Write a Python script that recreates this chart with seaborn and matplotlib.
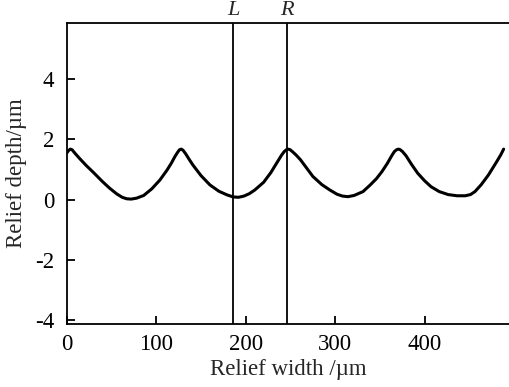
import numpy as np
import pandas as pd

import matplotlib
matplotlib.use("Agg")

import matplotlib.pyplot as plt
import matplotlib.transforms as mtransforms
import seaborn as sns

# profile (width in um, depth in um)
width_um = [0, 2, 4, 6, 9, 15, 22, 30, 40, 48, 56, 62, 67, 72, 78, 86, 95, 104,
            112, 117, 121, 124, 126, 128, 130, 133, 137, 141, 150, 160, 170, 179,
            186, 192, 198, 204, 210, 220, 228, 235, 240, 243, 245.5, 247.5, 249.5,
            252, 256, 261, 268, 275, 285, 294, 302, 308, 314, 321, 331, 339, 346,
            352, 358, 363, 366, 368.5, 370.5, 372.5, 375, 379, 385, 392, 400, 407,
            416, 426, 436, 445, 451, 456, 463, 471, 480, 485, 488]
depth_um = [1.55, 1.63, 1.68, 1.66, 1.55, 1.35, 1.13, 0.90, 0.60, 0.38, 0.19, 0.08, 0.03, 0.02, 0.05, 0.14, 0.36, 0.65,
            0.98, 1.22, 1.44, 1.58, 1.66, 1.68, 1.64, 1.52, 1.33, 1.15, 0.80, 0.49, 0.28, 0.16,
            0.09, 0.08, 0.12, 0.20, 0.32, 0.58, 0.90, 1.24, 1.48, 1.60, 1.66, 1.68, 1.66,
            1.60, 1.49, 1.33, 1.05, 0.77, 0.50, 0.32, 0.18, 0.12, 0.10, 0.14, 0.27, 0.49, 0.70,
            0.93, 1.20, 1.46, 1.60, 1.66, 1.68, 1.66, 1.60, 1.46, 1.18, 0.88, 0.62, 0.43,
            0.27, 0.17, 0.13, 0.13, 0.17, 0.27, 0.50, 0.82, 1.25, 1.50, 1.68]

marker_names = ["L", "R"]
marker_pos = [186, 246]

x_ticks = [0, 100, 200, 300, 400]
y_ticks = [-4, -2, 0, 2, 4]

df = pd.DataFrame({"width": width_um, "depth": depth_um})

sns.set_style("ticks")
plt.rcParams["font.family"] = ["Liberation Serif", "DejaVu Serif"]

fig = plt.figure(figsize=(5.09, 3.87), dpi=100)
ax = fig.add_axes([66.7 / 509, 1 - 324 / 387, (509 - 66.7) / 509, (324 - 22.7) / 387])

sns.lineplot(data=df, x="width", y="depth", ax=ax, color="black", linewidth=2.2,
             sort=False, solid_joinstyle="round", solid_capstyle="round")

trans = mtransforms.blended_transform_factory(ax.transData, ax.transAxes)
for name, pos in zip(marker_names, marker_pos):
    ax.axvline(pos, color="black", linewidth=1.3)
    ax.text(pos, 1.008, name, transform=trans, ha="center", va="bottom",
            fontsize=16, fontstyle="italic")

ax.set_xlim(0, 494)
ax.set_ylim(-4.13, 5.88)
ax.set_xticks(x_ticks)
ax.set_yticks(y_ticks)
ax.set_yticklabels([str(t) for t in y_ticks])
ax.tick_params(direction="in", length=6, width=1.3, labelsize=16.5, colors="black")
ax.tick_params(axis="x", pad=7)
ax.tick_params(axis="y", pad=9)

for side in ["left", "bottom", "top"]:
    ax.spines[side].set_linewidth(1.3)
    ax.spines[side].set_color("black")
ax.spines["right"].set_visible(False)

ax.set_xlabel("Relief width /\u00b5m", fontsize=16.5, labelpad=3)
ax.set_ylabel("Relief depth/\u00b5m", fontsize=16.5)
ax.yaxis.set_label_coords(-0.09, 0.5)

fig.savefig("out.png", dpi=100)
plt.close()
